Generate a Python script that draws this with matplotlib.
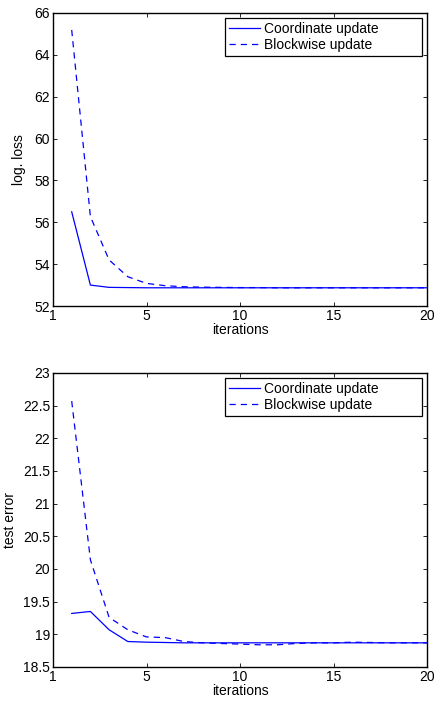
import matplotlib
matplotlib.use("Agg")
import matplotlib.pyplot as plt

plt.rcParams['font.family'] = ['Liberation Sans', 'DejaVu Sans']

iterations = list(range(1, 21))
loss_coord = [56.5, 53.0, 52.89, 52.88, 52.87, 52.87, 52.87, 52.87, 52.87, 52.87,
              52.87, 52.87, 52.87, 52.87, 52.87, 52.87, 52.87, 52.87, 52.87, 52.87]
loss_block = [65.19, 56.27, 54.2, 53.4, 53.08, 52.97, 52.92, 52.9, 52.89, 52.88,
              52.88, 52.87, 52.87, 52.87, 52.87, 52.87, 52.87, 52.87, 52.87, 52.87]
err_coord = [19.32, 19.35, 19.07, 18.89, 18.88, 18.875, 18.87, 18.87, 18.87, 18.87,
             18.87, 18.87, 18.87, 18.87, 18.87, 18.87, 18.87, 18.87, 18.87, 18.87]
err_block = [22.57, 20.14, 19.26, 19.07, 18.96, 18.95, 18.89, 18.87, 18.86, 18.85,
             18.84, 18.84, 18.86, 18.87, 18.87, 18.88, 18.875, 18.87, 18.87, 18.87]

xticks = [0, 5, 10, 15, 20]
xtick_labels = ['1', '5', '10', '15', '20']
loss_yticks = [52, 54, 56, 58, 60, 62, 64, 66]
err_yticks = [18.5, 19, 19.5, 20, 20.5, 21, 21.5, 22, 22.5, 23]
err_ytick_labels = ['18.5', '19', '19.5', '20', '20.5', '21', '21.5', '22', '22.5', '23']

W, H = 439, 706
fig = plt.figure(figsize=(W / 100, H / 100), dpi=100)

def make_ax(top_px, bottom_px):
    left, right = 53, 427
    return fig.add_axes([left / W, 1 - bottom_px / H, (right - left) / W, (bottom_px - top_px) / H])

ax1 = make_ax(13, 306)
ax2 = make_ax(373, 667)

def style(ax, ylabel, yticks, ylabels, ylabelpad):
    ax.set_xlim(0, 20)
    ax.set_xticks(xticks)
    ax.set_xticklabels(xtick_labels)
    ax.set_ylim(yticks[0], yticks[-1])
    ax.set_yticks(yticks)
    ax.set_yticklabels(ylabels)
    ax.tick_params(direction='in', top=True, right=True, length=3, width=0.6,
                   labelsize=10, pad=2)
    for s in ax.spines.values():
        s.set_linewidth(1.0)
    ax.set_xlabel('iterations', fontsize=10, labelpad=0)
    ax.set_ylabel(ylabel, fontsize=10, labelpad=ylabelpad)
    # legend box spans roughly x 225..422 px, y 5..42 px below axes top
    leg = ax.legend(loc='upper left', bbox_to_anchor=(0.46, 0.983, 0.527, 0.0),
                    mode='expand', fontsize=10, handlelength=2.2, handletextpad=0.3,
                    borderpad=0.3, labelspacing=0.15, borderaxespad=0.0,
                    fancybox=False, framealpha=1, edgecolor='black')
    leg.get_frame().set_linewidth(0.9)

ax1.plot(iterations, loss_coord, color='#0000ff', lw=0.9, ls='-', label='Coordinate update')
ax1.plot(iterations, loss_block, color='#0000ff', lw=0.9, ls=(0, (5, 4)), label='Blockwise update')
style(ax1, 'log. loss', loss_yticks, [str(v) for v in loss_yticks], 6)

ax2.plot(iterations, err_coord, color='#0000ff', lw=0.9, ls='-', label='Coordinate update')
ax2.plot(iterations, err_block, color='#0000ff', lw=0.9, ls=(0, (5, 4)), label='Blockwise update')
style(ax2, 'test error', err_yticks, err_ytick_labels, 4)

fig.savefig('out.png', dpi=100)
